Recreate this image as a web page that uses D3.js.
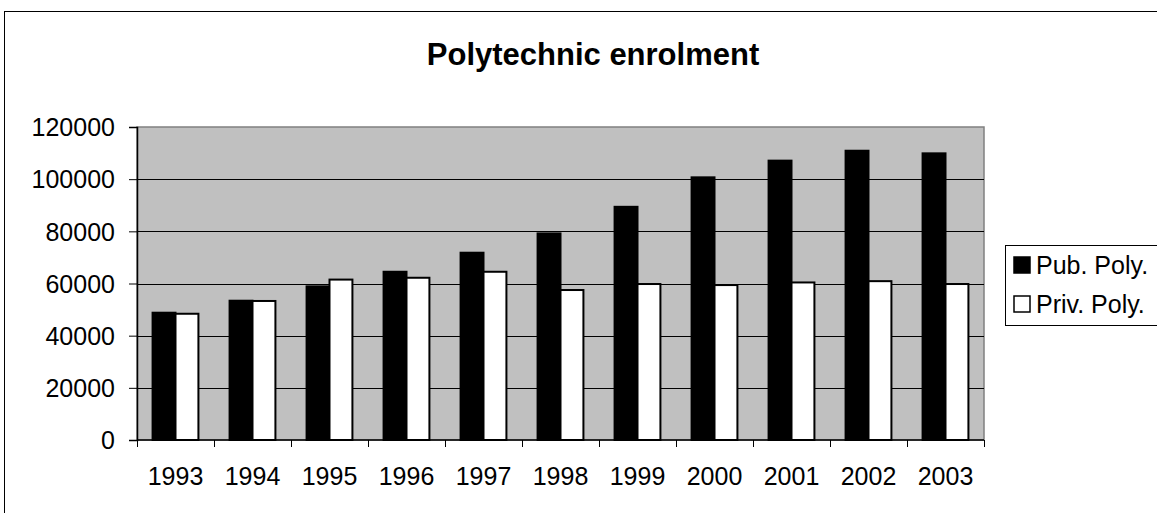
<!DOCTYPE html>
<html>
<head>
<meta charset="utf-8">
<script src="https://cdn.jsdelivr.net/npm/d3@7/dist/d3.min.js"></script>
<style>
  html, body { margin: 0; padding: 0; background: #fff; overflow: hidden; }
  svg { display: block; font-family: "Liberation Sans", Arial, sans-serif; }
</style>
</head>
<body>
<svg id="chart" width="1157" height="513"></svg>
<script>
// Enrolment by year, public vs private polytechnics
const years = ["1993", "1994", "1995", "1996", "1997", "1998", "1999", "2000", "2001", "2002", "2003"];
const seriesNames = ["Pub. Poly.", "Priv. Poly."];
const pubPoly  = [48800, 53400, 58900, 64500, 71800, 79200, 89400, 100700, 107100, 110900, 109900];
const privPoly = [48400, 53300, 61500, 62200, 64500, 57500, 59800, 59400, 60400, 60900, 59800];
const yTicks = [0, 20000, 40000, 60000, 80000, 100000, 120000];
const seriesFill = ["#000000", "#ffffff"];

const svg = d3.select("#chart");

// outer chart frame
svg.append("rect")
  .attr("x", 4.5).attr("y", 11.5)
  .attr("width", 1180).attr("height", 520)
  .attr("fill", "#fff").attr("stroke", "#000").attr("stroke-width", 1);

// title
svg.append("text")
  .attr("x", 593).attr("y", 65)
  .attr("text-anchor", "middle")
  .attr("font-size", 31).attr("font-weight", "bold")
  .text("Polytechnic enrolment");

const plot = { left: 137, right: 984, top: 127, bottom: 440 };

const x0 = d3.scaleBand().domain(years).range([plot.left, plot.right]).padding(0);
const x1 = d3.scaleBand().domain(seriesNames)
  .range([0, x0.bandwidth()]).paddingInner(0).paddingOuter(0.68);
const y = d3.scaleLinear().domain([0, 120000]).range([plot.bottom, plot.top]);

// plot area background
svg.append("rect")
  .attr("x", plot.left).attr("y", plot.top)
  .attr("width", plot.right - plot.left).attr("height", plot.bottom - plot.top)
  .attr("fill", "#c0c0c0").attr("stroke", "#808080").attr("stroke-width", 1.5);

// horizontal gridlines
svg.append("g")
  .selectAll("line")
  .data(yTicks.filter(t => t > 0 && t < 120000))
  .join("line")
  .attr("x1", plot.left).attr("x2", plot.right)
  .attr("y1", d => Math.round(y(d)) + 0.5).attr("y2", d => Math.round(y(d)) + 0.5)
  .attr("stroke", "#000").attr("stroke-width", 1);

// bars
const rows = years.map((yr, i) => ({ year: yr, values: [pubPoly[i], privPoly[i]] }));
const groups = svg.append("g")
  .selectAll("g")
  .data(rows)
  .join("g")
  .attr("transform", d => `translate(${x0(d.year)},0)`);

groups.selectAll("rect")
  .data(d => d.values.map((v, j) => ({ name: seriesNames[j], value: v, j })))
  .join("rect")
  .attr("x", d => x1(d.name))
  .attr("y", d => y(d.value))
  .attr("width", x1.bandwidth())
  .attr("height", d => y(0) - y(d.value))
  .attr("fill", d => seriesFill[d.j])
  .attr("stroke", "#000").attr("stroke-width", 2);

// y axis
const yAxis = d3.axisLeft(y).tickValues(yTicks).tickSize(8).tickPadding(14).tickFormat(d3.format("d"));
const gy = svg.append("g").attr("transform", `translate(${plot.left},0)`).call(yAxis);
gy.select(".domain").attr("stroke", "#000").attr("stroke-width", 1.5);
gy.selectAll(".tick line").attr("stroke", "#000");
gy.selectAll(".tick text")
  .attr("font-size", 25).attr("fill", "#000")
  .attr("font-family", "Liberation Sans, Arial, sans-serif")
  .attr("dy", "0.35em");

// x axis with ticks at category boundaries
const gx = svg.append("g").attr("transform", `translate(0,${plot.bottom})`);
gx.append("line")
  .attr("x1", plot.left).attr("x2", plot.right)
  .attr("y1", 0).attr("y2", 0)
  .attr("stroke", "#000").attr("stroke-width", 1.5);
const boundaries = years.map(yr => x0(yr)).concat([plot.right]);
gx.selectAll("line.tk")
  .data(boundaries)
  .join("line").attr("class", "tk")
  .attr("x1", d => Math.round(d) + 0.5).attr("x2", d => Math.round(d) + 0.5)
  .attr("y1", 0).attr("y2", 7)
  .attr("stroke", "#000");
gx.selectAll("text")
  .data(years)
  .join("text")
  .attr("x", d => x0(d) + x0.bandwidth() / 2)
  .attr("y", 45)
  .attr("text-anchor", "middle")
  .attr("font-size", 25)
  .text(d => d);

// legend
const legend = svg.append("g").attr("transform", "translate(1005,245)");
legend.append("rect")
  .attr("x", 0.5).attr("y", 0.5).attr("width", 200).attr("height", 80)
  .attr("fill", "#fff").attr("stroke", "#000").attr("stroke-width", 1);
const items = legend.selectAll("g.item")
  .data(seriesNames)
  .join("g").attr("class", "item")
  .attr("transform", (d, i) => `translate(0,${20 + i * 39})`);
items.append("rect")
  .attr("x", 9).attr("y", -8).attr("width", 16).attr("height", 16)
  .attr("fill", (d, i) => seriesFill[i]).attr("stroke", "#000").attr("stroke-width", 1.5);
items.append("text")
  .attr("x", 31).attr("y", 0).attr("dy", "0.36em")
  .attr("font-size", 25)
  .text(d => d);
</script>
</body>
</html>
